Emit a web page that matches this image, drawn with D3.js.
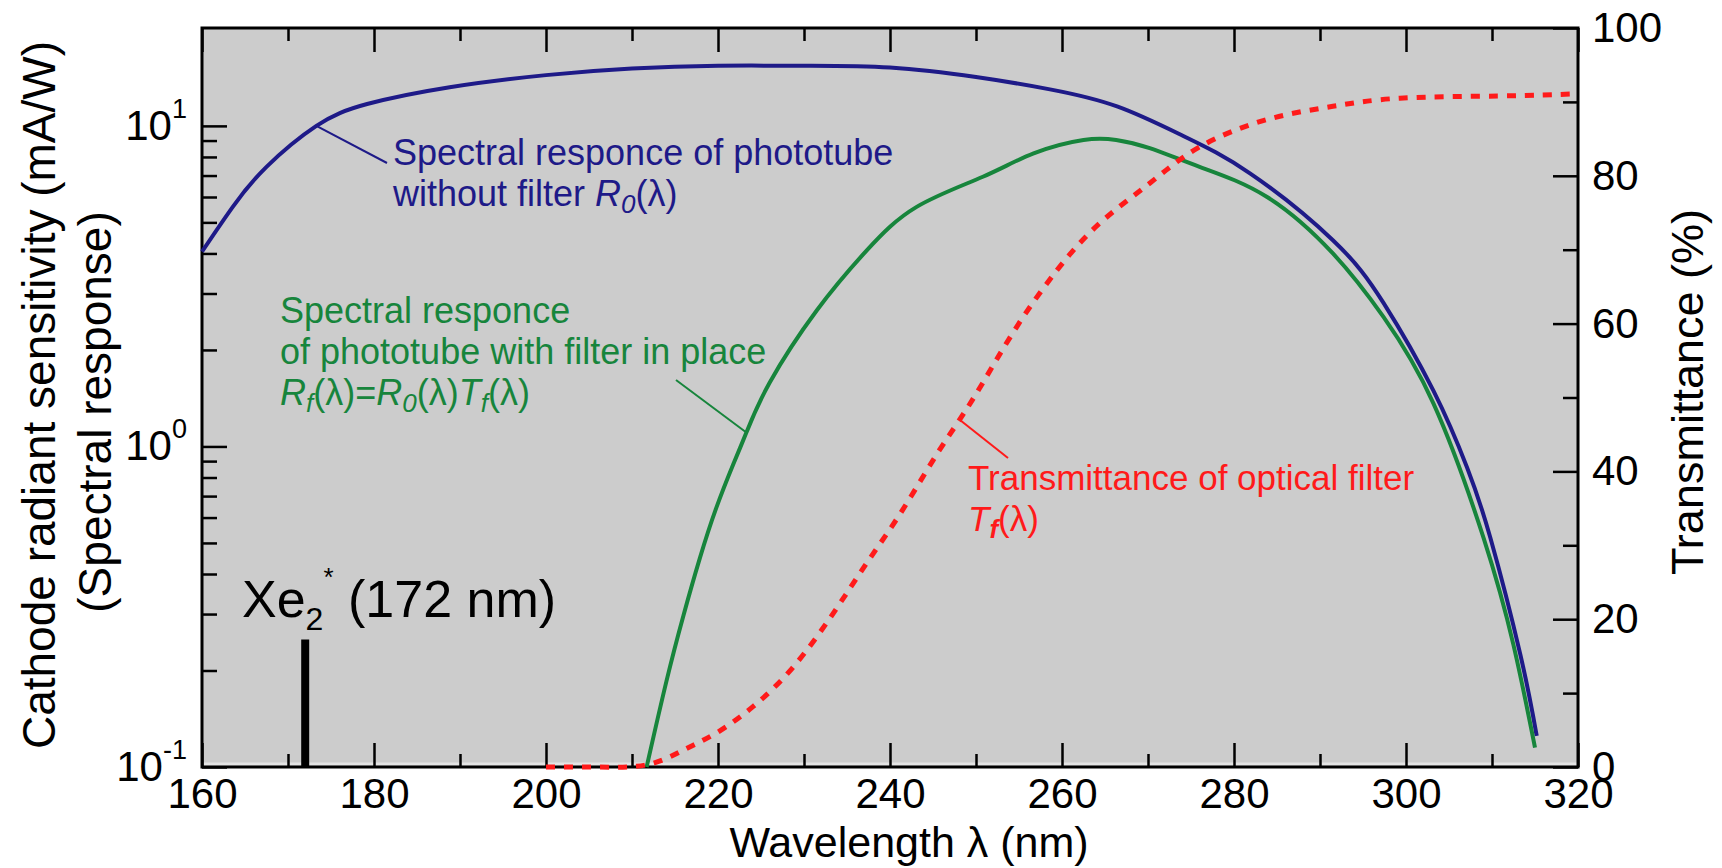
<!DOCTYPE html>
<html>
<head>
<meta charset="utf-8">
<script src="https://cdn.jsdelivr.net/npm/d3@7"></script>
<style>
  body { margin: 0; background: #fff; }
  text { font-family: "Liberation Sans", Arial, Helvetica, sans-serif; }
</style>
</head>
<body>
<div id="chart"></div>
<script>
// spectral response of phototube without filter, R0 (mA/W)
const r0Wl  = [160, 163.6, 167.5, 173.3, 179.2, 188.8, 200, 210, 220, 230, 240, 250, 258.6, 266.4, 274.1, 281.9, 291.5, 297.4, 303.2, 307.1, 309.8, 313.3, 315.2];
const r0Val = [4.05, 5.6, 7.45, 10.0, 11.7, 13.2, 14.4, 15.1, 15.4, 15.4, 15.2, 14.2, 13.0, 11.5, 9.3, 7.1, 4.4, 2.8, 1.49, 0.86, 0.52, 0.224, 0.125];

// spectral response with filter in place, Rf (mA/W)
const rfWl  = [211.7, 214.0, 216.0, 217.9, 219.8, 221.8, 223.3, 226.0, 231.5, 237.3, 243.1, 250.8, 256.7, 262.5, 266.3, 270.2, 276.0, 283.8, 291.5, 297.4, 303.2, 309.0, 312.5, 315.0];
const rfVal = [0.1, 0.185, 0.298, 0.449, 0.643, 0.883, 1.105, 1.58, 2.66, 4.09, 5.59, 6.94, 8.21, 9.04, 9.04, 8.52, 7.45, 6.01, 4.0, 2.53, 1.36, 0.52, 0.24, 0.115];

// transmittance of optical filter, Tf (%)
const tfWl  = [200, 206, 211.7, 216.0, 219.8, 224.1, 228.8, 233.4, 237.3, 241.2, 245.0, 248.1, 250.8, 254.7, 259.4, 264.4, 270.2, 276.0, 283.8, 291.5, 299.3, 310.9, 320];
const tfVal = [0, 0, 0.3, 2.3, 4.6, 8.2, 13.6, 20.8, 27.6, 34.3, 41.5, 47.0, 52.0, 59.5, 67.2, 73.6, 79.0, 83.9, 87.6, 89.4, 90.5, 90.8, 91.1];

// Xe2* emission line
const xeWl = 172;
const xeTop = 0.25;

// ticks
const wlMajor = [160, 180, 200, 220, 240, 260, 280, 300, 320];
const wlMinor = [170, 190, 210, 230, 250, 270, 290, 310];
const logMajor = [0.1, 1, 10];
const logExp = ["-1", "0", "1"];
const logMinor = [0.2, 0.3, 0.4, 0.5, 0.6, 0.7, 0.8, 0.9, 2, 3, 4, 5, 6, 7, 8, 9];
const tMajor = [0, 20, 40, 60, 80, 100];
const tMinor = [10, 30, 50, 70, 90];

const width = 1722;
const height = 868;
const plotL = 202, plotR = 1578, plotT = 28, plotB = 767;

const blue = "#1e1a88";
const green = "#17853c";
const red = "#ff1a1a";

const svg = d3.select("#chart")
    .append("svg")
    .attr("width", width)
    .attr("height", height);

const x = d3.scaleLinear().domain([160, 320]).range([plotL, plotR]);
const y = d3.scaleLog().domain([0.1, 20.2]).range([plotB, plotT]);
const yR = d3.scaleLinear().domain([0, 100]).range([plotB, plotT]);

// plot background
svg.append("rect")
    .attr("x", plotL).attr("y", plotT)
    .attr("width", plotR - plotL).attr("height", plotB - plotT)
    .attr("fill", "#cccccc");
svg.append("line")
    .attr("x1", plotL).attr("x2", plotR)
    .attr("y1", plotB - 3).attr("y2", plotB - 3)
    .attr("stroke", "#e4e4e4").attr("stroke-width", 3);

// axes helper: draws ticks (inside) and removes domain
function addAxis(axis, tx, ty) {
    const g = svg.append("g")
        .attr("transform", "translate(" + tx + "," + ty + ")")
        .call(axis);
    g.select(".domain").remove();
    g.selectAll(".tick line").attr("stroke", "#000").attr("stroke-width", 2.5);
    g.selectAll("text")
        .attr("font-family", "'Liberation Sans', Arial, sans-serif")
        .attr("font-size", 42)
        .attr("fill", "#000");
    return g;
}

// bottom x axis
addAxis(d3.axisBottom(x).tickValues(wlMajor).tickSize(-24).tickPadding(11).tickFormat(d3.format("d")), 0, plotB);
addAxis(d3.axisBottom(x).tickValues(wlMinor).tickSize(-13).tickFormat(""), 0, plotB);
// top x axis
addAxis(d3.axisTop(x).tickValues(wlMajor).tickSize(-24).tickFormat(""), 0, plotT);
addAxis(d3.axisTop(x).tickValues(wlMinor).tickSize(-13).tickFormat(""), 0, plotT);
// left log axis
addAxis(d3.axisLeft(y).tickValues(logMajor).tickSize(-25).tickFormat(""), plotL, 0);
addAxis(d3.axisLeft(y).tickValues(logMinor).tickSize(-15).tickFormat(""), plotL, 0);
// right transmittance axis
addAxis(d3.axisRight(yR).tickValues(tMajor).tickSize(-25).tickPadding(14).tickFormat(d3.format("d")), plotR, 0);
addAxis(d3.axisRight(yR).tickValues(tMinor).tickSize(-15).tickFormat(""), plotR, 0);

// log labels with exponent
logMajor.forEach(function(v, i) {
    const t = svg.append("text")
        .attr("x", 187)
        .attr("y", y(v) + 14)
        .attr("text-anchor", "end")
        .attr("font-size", 42);
    t.append("tspan").text("10");
    t.append("tspan").attr("dy", -22).attr("font-size", 27).text(logExp[i]);
});

// frame
svg.append("rect")
    .attr("x", plotL).attr("y", plotT)
    .attr("width", plotR - plotL).attr("height", plotB - plotT)
    .attr("fill", "none")
    .attr("stroke", "#000").attr("stroke-width", 3);

// Xe2* line
svg.append("line")
    .attr("x1", x(xeWl)).attr("x2", x(xeWl))
    .attr("y1", y(0.1)).attr("y2", y(xeTop))
    .attr("stroke", "#000").attr("stroke-width", 8);

const xeText = svg.append("text")
    .attr("x", 242).attr("y", 617)
    .attr("font-size", 52).attr("fill", "#000");
xeText.append("tspan").text("Xe");
xeText.append("tspan").attr("dy", 13).attr("font-size", 32).text("2");
xeText.append("tspan").attr("dy", -44).attr("font-size", 26).text("*");
xeText.append("tspan").attr("dy", 31).text(" (172 nm)");

// curves
const logLine = d3.line()
    .x(d => x(d[0]))
    .y(d => y(d[1]))
    .curve(d3.curveNatural);
const linLine = d3.line()
    .x(d => x(d[0]))
    .y(d => yR(d[1]))
    .curve(d3.curveNatural);

svg.append("path")
    .attr("d", logLine(d3.zip(r0Wl, r0Val)))
    .attr("fill", "none").attr("stroke", blue).attr("stroke-width", 4);

svg.append("path")
    .attr("d", logLine(d3.zip(rfWl, rfVal)))
    .attr("fill", "none").attr("stroke", green).attr("stroke-width", 4);

svg.append("path")
    .attr("d", linLine(d3.zip(tfWl, tfVal)))
    .attr("fill", "none").attr("stroke", red).attr("stroke-width", 5)
    .attr("stroke-dasharray", "9,9");

// annotations
function leader(x1, y1, x2, y2, color) {
    svg.append("line")
        .attr("x1", x1).attr("y1", y1).attr("x2", x2).attr("y2", y2)
        .attr("stroke", color).attr("stroke-width", 2);
}

leader(x(173.3), y(10), 387, 163, blue);
leader(x(223.3), y(1.105), 676, 380, green);
leader(x(248.1), yR(47), 1008, 458, red);

// blue label
svg.append("text").attr("x", 393).attr("y", 165).attr("font-size", 36).attr("fill", blue)
    .text("Spectral responce of phototube");
const b2 = svg.append("text").attr("x", 393).attr("y", 206).attr("font-size", 36).attr("fill", blue);
b2.append("tspan").text("without filter ");
b2.append("tspan").attr("font-style", "italic").text("R");
b2.append("tspan").attr("font-style", "italic").attr("font-size", 26).attr("dy", 7).text("0");
b2.append("tspan").attr("dy", -7).text("(λ)");

// green label
svg.append("text").attr("x", 280).attr("y", 323).attr("font-size", 36).attr("fill", green)
    .text("Spectral responce");
svg.append("text").attr("x", 280).attr("y", 364).attr("font-size", 36).attr("fill", green)
    .text("of phototube with filter in place");
const g3 = svg.append("text").attr("x", 280).attr("y", 405).attr("font-size", 36).attr("fill", green);
g3.append("tspan").attr("font-style", "italic").text("R");
g3.append("tspan").attr("font-style", "italic").attr("font-size", 26).attr("dy", 7).text("f");
g3.append("tspan").attr("dy", -7).text("(λ)=");
g3.append("tspan").attr("font-style", "italic").text("R");
g3.append("tspan").attr("font-style", "italic").attr("font-size", 26).attr("dy", 7).text("0");
g3.append("tspan").attr("dy", -7).text("(λ)");
g3.append("tspan").attr("font-style", "italic").text("T");
g3.append("tspan").attr("font-style", "italic").attr("font-size", 26).attr("dy", 7).text("f");
g3.append("tspan").attr("dy", -7).text("(λ)");

// red label
svg.append("text").attr("x", 968).attr("y", 490).attr("font-size", 35).attr("fill", red)
    .text("Transmittance of optical filter");
const r2 = svg.append("text").attr("x", 968).attr("y", 531).attr("font-size", 35).attr("fill", red);
r2.append("tspan").attr("font-style", "italic").text("T");
r2.append("tspan").attr("font-style", "italic").attr("font-weight", "bold").attr("font-size", 26).attr("dy", 7).text("f");
r2.append("tspan").attr("dy", -7).text("(λ)");

// axis titles
svg.append("text")
    .attr("transform", "translate(909,857)")
    .attr("text-anchor", "middle")
    .attr("font-size", 43)
    .text("Wavelength λ (nm)");

svg.append("text")
    .attr("transform", "translate(55,395) rotate(-90)")
    .attr("text-anchor", "middle")
    .attr("font-size", 46)
    .text("Cathode radiant sensitivity (mA/W)");
svg.append("text")
    .attr("transform", "translate(111,412) rotate(-90)")
    .attr("text-anchor", "middle")
    .attr("font-size", 46)
    .text("(Spectral response)");

svg.append("text")
    .attr("transform", "translate(1703,392) rotate(-90)")
    .attr("text-anchor", "middle")
    .attr("font-size", 45)
    .text("Transmittance (%)");
</script>
</body>
</html>
